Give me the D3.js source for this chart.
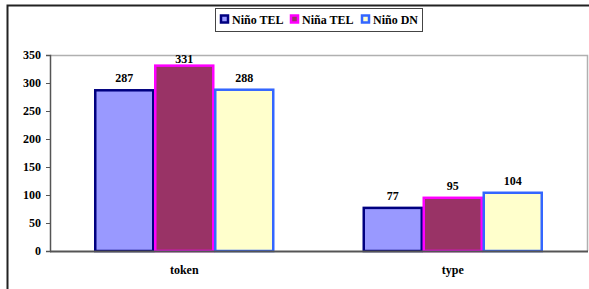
<!DOCTYPE html>
<html><head><meta charset="utf-8">
<script src="https://cdn.jsdelivr.net/npm/d3@7"></script>
<style>body{margin:0;background:#fff}svg{display:block}svg text{font-family:"Liberation Serif","DejaVu Serif",serif;font-weight:bold}</style>
</head><body>
<svg id="c" width="589" height="289"></svg>
<script>
const categories = ["token", "type"];
const seriesNames = ["Niño TEL", "Niña TEL", "Niño DN"];
const ninoTEL = [287, 77];
const ninaTEL = [331, 95];
const ninoDN = [288, 104];
const yTicks = [0, 50, 100, 150, 200, 250, 300, 350];
const fills = ["#9999FF", "#993366", "#FFFFCC"];
const strokes = ["#000080", "#FF00FF", "#3366FF"];

const series = [ninoTEL, ninaTEL, ninoDN];
const svg = d3.select("#c");
const L = 50, R = 587, T = 55, B = 251;

// outer frame
svg.append("path").attr("d", "M7.5,289 V5.5 H589").attr("fill", "none").attr("stroke", "#222").attr("stroke-width", 2);

const x0 = d3.scaleBand().domain(categories).range([L, R]);
const x1 = d3.scaleBand().domain(d3.range(3)).range([0, 180]);
const y = d3.scaleLinear().domain([0, 350]).range([B, T]);

// plot area border (top/right)
svg.append("path").attr("d", `M${L},${T + 0.5} H${R + 0.5} V${B}`).attr("fill", "none").attr("stroke", "#b0b0b0").attr("stroke-width", 1.5);

// bars
categories.forEach((c, ci) => {
  const gx = x0(c) + (x0.bandwidth() - 180) / 2;
  series.forEach((s, si) => {
    const v = s[ci];
    const bx = gx + x1(si);
    svg.append("rect").attr("x", bx + 1).attr("y", y(v)).attr("width", x1.bandwidth() - 2).attr("height", B - y(v))
      .attr("fill", fills[si]).attr("stroke", strokes[si]).attr("stroke-width", 2.5);
  });
});
categories.forEach((c, ci) => {
  const gx = x0(c) + (x0.bandwidth() - 180) / 2;
  series.forEach((s, si) => {
    const v = s[ci];
    const bx = gx + x1(si);
    svg.append("text").attr("x", bx + x1.bandwidth() / 2).attr("y", Math.max(y(v) - 8, T + 7.5))
      .attr("text-anchor", "middle").attr("font-size", 12)
      .text(v);
  });
  svg.append("text").attr("x", x0(c) + x0.bandwidth() / 2).attr("y", 274)
    .attr("text-anchor", "middle").attr("font-size", 12)
    .text(c);
});

// y axis
const yAxis = d3.axisLeft(y).tickValues(yTicks).tickSize(4).tickPadding(5);
const ga = svg.append("g").attr("transform", `translate(${L},0)`).call(yAxis);
ga.attr("font-family", null);
ga.select(".domain").attr("stroke", "#555").attr("stroke-width", 1.5);
ga.selectAll(".tick line").attr("stroke", "#555");
ga.selectAll(".tick text").attr("font-size", 12).attr("fill", "#000");

// x axis line
svg.append("line").attr("x1", L).attr("x2", R + 1).attr("y1", B + 0.5).attr("y2", B + 0.5).attr("stroke", "#555").attr("stroke-width", 2);

// legend
const lg = svg.append("g");
lg.append("rect").attr("x", 215.5).attr("y", 8.5).attr("width", 207).attr("height", 23).attr("fill", "#fff").attr("stroke", "#444").attr("stroke-width", 1);
const lx = [220, 290, 361];
seriesNames.forEach((n, i) => {
  lg.append("rect").attr("x", lx[i] + 1).attr("y", 15.5).attr("width", 7).attr("height", 7)
    .attr("fill", fills[i]).attr("stroke", strokes[i]).attr("stroke-width", 2.5);
  lg.append("text").attr("x", lx[i] + 12).attr("y", 24).attr("font-size", 12).text(n);
});
</script>
</body></html>
